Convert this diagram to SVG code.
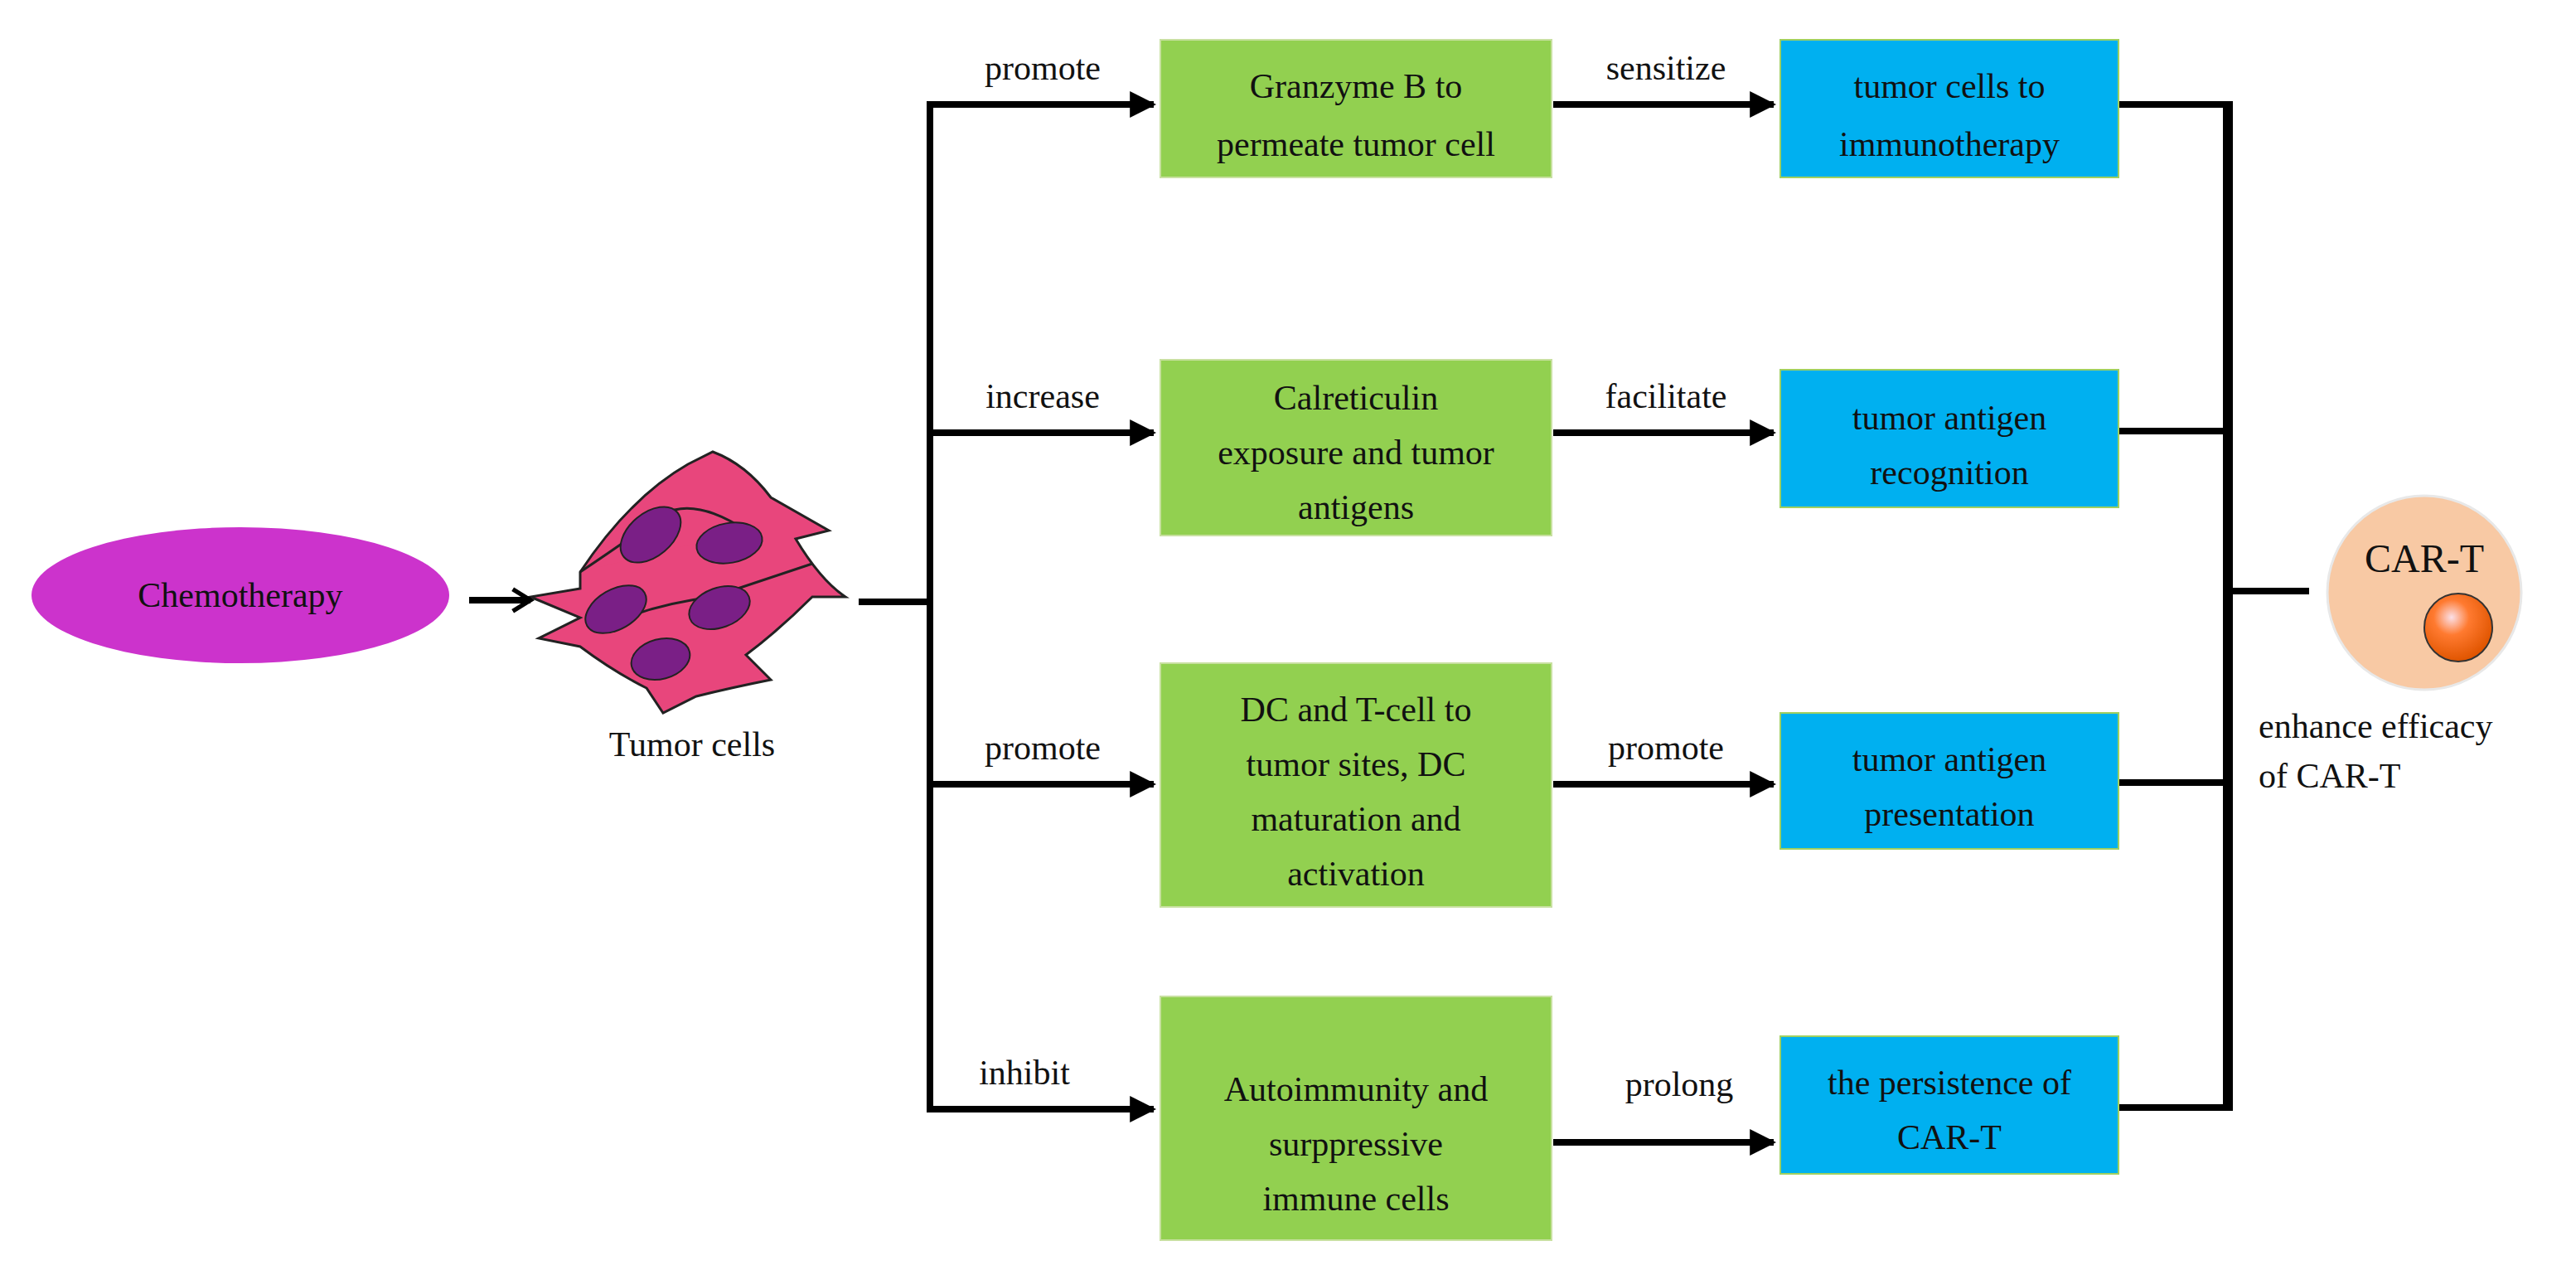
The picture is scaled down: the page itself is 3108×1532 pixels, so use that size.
<svg xmlns="http://www.w3.org/2000/svg" width="3108" height="1532" viewBox="0 0 3108 1532">
<defs>
<style>
text{font-family:"Liberation Serif","Times New Roman",serif;font-size:42px;fill:#111}
.c{text-anchor:middle}
.ln{stroke:#000;stroke-width:8;fill:none}
.g{fill:#92D050;stroke:#C8E0A0;stroke-width:2}
.b{fill:#00B0F0;stroke:#A0D060;stroke-width:2}
.cell{fill:#E8467C;stroke:#222;stroke-width:3}
.nuc{fill:#7A1F86;stroke:#222;stroke-width:2}
</style>
<marker id="ah" viewBox="0 0 10 10" refX="9" refY="5" markerWidth="4" markerHeight="4" orient="auto" markerUnits="strokeWidth"><path d="M0,0 L10,5 L0,10 z" fill="#000"/></marker>
<marker id="oa" viewBox="0 0 12 12" refX="10" refY="6" markerWidth="4" markerHeight="4" orient="auto" markerUnits="strokeWidth"><path d="M2,1 L10,6 L2,11" fill="none" stroke="#000" stroke-width="2"/></marker>
<radialGradient id="ball" cx="0.4" cy="0.35" r="0.65"><stop offset="0" stop-color="#FBE0E8"/><stop offset="0.4" stop-color="#FF7A30"/><stop offset="1" stop-color="#E05500"/></radialGradient>
</defs>
<rect width="3108" height="1532" fill="#fff"/>
<g id="chemo"><ellipse cx="290" cy="718" rx="252" ry="82" fill="#CC33CC"/><text class="c" x="290" y="732">Chemotherapy</text></g>
<g id="tumor">
<path class="cell" d="M700,690 Q760,600 830,560 L860,545 Q900,560 930,600 L1000,640 L960,650 Q990,700 1020,720 L980,720 Q940,760 900,790 L930,820 Q880,830 840,840 L800,860 L780,830 Q740,810 700,780 L650,770 L700,745 L640,720 L700,710 Z"/>
<path class="cell" d="M700,690 Q760,650 800,620 Q840,600 900,640" fill="none"/>
<path class="cell" d="M720,760 Q780,730 860,720 Q920,700 980,680" fill="none"/>
<ellipse class="nuc" cx="785" cy="645" rx="42" ry="26" transform="rotate(-40 785 645)"/>
<ellipse class="nuc" cx="880" cy="655" rx="40" ry="24" transform="rotate(-10 880 655)"/>
<ellipse class="nuc" cx="743" cy="735" rx="40" ry="24" transform="rotate(-30 743 735)"/>
<ellipse class="nuc" cx="868" cy="733" rx="38" ry="24" transform="rotate(-20 868 733)"/>
<ellipse class="nuc" cx="797" cy="795" rx="36" ry="24" transform="rotate(-15 797 795)"/>
<text class="c" x="835" y="912">Tumor cells</text>
</g>
<g id="connectors">
<line class="ln" x1="566" y1="724" x2="640" y2="724" marker-end="url(#oa)"/>
<line class="ln" x1="1036" y1="726" x2="1122" y2="726"/>
<line class="ln" x1="1122" y1="122" x2="1122" y2="1342"/>
<line class="ln" x1="1118" y1="126" x2="1392" y2="126" marker-end="url(#ah)"/>
<line class="ln" x1="1118" y1="522" x2="1392" y2="522" marker-end="url(#ah)"/>
<line class="ln" x1="1118" y1="946" x2="1392" y2="946" marker-end="url(#ah)"/>
<line class="ln" x1="1118" y1="1338" x2="1392" y2="1338" marker-end="url(#ah)"/>
<line class="ln" x1="1874" y1="126" x2="2140" y2="126" marker-end="url(#ah)"/>
<line class="ln" x1="1874" y1="522" x2="2140" y2="522" marker-end="url(#ah)"/>
<line class="ln" x1="1874" y1="946" x2="2140" y2="946" marker-end="url(#ah)"/>
<line class="ln" x1="1874" y1="1378" x2="2140" y2="1378" marker-end="url(#ah)"/>
<line class="ln" x1="2556" y1="126" x2="2690" y2="126"/>
<line class="ln" x1="2556" y1="520" x2="2690" y2="520"/>
<line class="ln" x1="2556" y1="944" x2="2690" y2="944"/>
<line class="ln" x1="2556" y1="1336" x2="2690" y2="1336"/>
<line x1="2688" y1="122" x2="2688" y2="1340" stroke="#000" stroke-width="12"/>
<line class="ln" x1="2688" y1="713" x2="2786" y2="713" stroke-width="12"/>
<text class="c" x="1258" y="96">promote</text>
<text class="c" x="1258" y="492">increase</text>
<text class="c" x="1258" y="916">promote</text>
<text class="c" x="1236" y="1308">inhibit</text>
<text class="c" x="2010" y="96">sensitize</text>
<text class="c" x="2010" y="492">facilitate</text>
<text class="c" x="2010" y="916">promote</text>
<text class="c" x="2026" y="1322">prolong</text>
</g>
<g id="g1"><rect class="g" x="1400" y="48" width="472" height="166"/><text class="c" x="1636" y="118">Granzyme B to</text><text class="c" x="1636" y="188">permeate tumor cell</text></g>
<g id="g2"><rect class="g" x="1400" y="434" width="472" height="212"/><text class="c" x="1636" y="494">Calreticulin</text><text class="c" x="1636" y="560">exposure and tumor</text><text class="c" x="1636" y="626">antigens</text></g>
<g id="g3"><rect class="g" x="1400" y="800" width="472" height="294"/><text class="c" x="1636" y="870">DC and T-cell to</text><text class="c" x="1636" y="936">tumor sites, DC</text><text class="c" x="1636" y="1002">maturation and</text><text class="c" x="1636" y="1068">activation</text></g>
<g id="g4"><rect class="g" x="1400" y="1202" width="472" height="294"/><text class="c" x="1636" y="1328">Autoimmunity and</text><text class="c" x="1636" y="1394">surppressive</text><text class="c" x="1636" y="1460">immune cells</text></g>
<g id="b1"><rect class="b" x="2148" y="48" width="408" height="166"/><text class="c" x="2352" y="118">tumor cells to</text><text class="c" x="2352" y="188">immunotherapy</text></g>
<g id="b2"><rect class="b" x="2148" y="446" width="408" height="166"/><text class="c" x="2352" y="518">tumor antigen</text><text class="c" x="2352" y="584">recognition</text></g>
<g id="b3"><rect class="b" x="2148" y="860" width="408" height="164"/><text class="c" x="2352" y="930">tumor antigen</text><text class="c" x="2352" y="996">presentation</text></g>
<g id="b4"><rect class="b" x="2148" y="1250" width="408" height="166"/><text class="c" x="2352" y="1320">the persistence of</text><text class="c" x="2352" y="1386">CAR-T</text></g>
<g id="cart">
<circle cx="2925" cy="715" r="117" fill="#F8C9A4" stroke="#e8e8e8" stroke-width="3"/>
<text class="c" x="2925" y="690" style="font-size:48px">CAR-T</text>
<circle cx="2966" cy="757" r="41" fill="url(#ball)" stroke="#333" stroke-width="2"/>
<text x="2725" y="890">enhance efficacy</text>
<text x="2725" y="950">of CAR-T</text>
</g>
</svg>
